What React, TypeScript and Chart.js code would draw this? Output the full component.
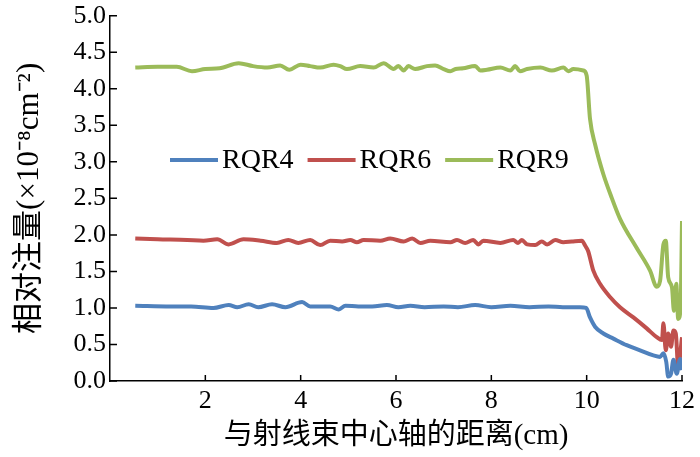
import React, { useEffect, useRef } from "react";
import { Chart, Plugin, registerables } from "chart.js";

Chart.register(...registerables);

// tick labels
const xTickValues = [2, 4, 6, 8, 10, 12];
const yTickValues = [0, 0.5, 1, 1.5, 2, 2.5, 3, 3.5, 4, 4.5, 5];

const seriesNames = ["RQR4", "RQR6", "RQR9"];
const seriesColors = ["#4F81BD", "#C0504D", "#9BBB59"];

// RQR4 (blue)
const rqr4X = [
  0.53, 1.27, 1.7, 2.17, 2.49, 2.67, 2.91, 3.11, 3.4, 3.68, 4.03, 4.2, 4.62, 4.8, 4.94,
  5.21, 5.5, 5.81, 6.05, 6.3, 6.6, 7.0, 7.3, 7.66, 8.0, 8.4, 8.8, 9.2, 9.5, 9.86, 9.99,
  10.07, 10.18, 10.35, 10.56, 10.84, 11.12, 11.4, 11.54, 11.61, 11.67, 11.71, 11.77,
  11.82, 11.89, 11.96, 12.0,
];
const rqr4Y = [
  1.03, 1.02, 1.02, 1.0, 1.04, 1.01, 1.05, 1.01, 1.05, 1.01, 1.08, 1.02, 1.02, 0.98, 1.03,
  1.02, 1.02, 1.04, 1.01, 1.03, 1.01, 1.02, 1.01, 1.04, 1.01, 1.03, 1.01, 1.02, 1.01, 1.01, 1.0,
  0.87, 0.74, 0.65, 0.58, 0.49, 0.42, 0.35, 0.33, 0.38, 0.26, 0.06, 0.1,
  0.29, 0.1, 0.3, 0.15,
];

// RQR6 (red)
const rqr6X = [
  0.53, 1.0, 1.62, 1.96, 2.25, 2.49, 2.8, 3.16, 3.5, 3.74, 3.95, 4.2, 4.41, 4.62, 4.87,
  5.04, 5.18, 5.32, 5.67, 5.88, 6.16, 6.34, 6.51, 6.72, 7.14, 7.28, 7.45, 7.62, 7.73, 7.83,
  8.19, 8.46, 8.56, 8.64, 8.75, 8.92, 9.06, 9.17, 9.34, 9.51, 9.69, 9.9, 9.97,
  10.03, 10.14, 10.28, 10.49, 10.7, 10.98, 11.26, 11.47, 11.58, 11.61, 11.66, 11.71,
  11.77, 11.82, 11.87, 11.92, 12.0,
];
const rqr6Y = [
  1.95, 1.94, 1.93, 1.92, 1.94, 1.87, 1.94, 1.92, 1.89, 1.93, 1.89, 1.93, 1.86, 1.92, 1.91,
  1.93, 1.9, 1.93, 1.92, 1.95, 1.91, 1.95, 1.89, 1.92, 1.9, 1.93, 1.89, 1.93, 1.87, 1.92,
  1.89, 1.93, 1.89, 1.93, 1.87, 1.86, 1.91, 1.87, 1.93, 1.9, 1.91, 1.92, 1.85,
  1.78, 1.51, 1.33, 1.15, 1.01, 0.87, 0.72, 0.6, 0.56, 0.79, 0.42, 0.65,
  0.47, 0.69, 0.65, 0.19, 0.6,
];

// RQR9 (green)
const rqr9X = [
  0.53, 1.0, 1.4, 1.72, 2.0, 2.3, 2.7, 3.0, 3.3, 3.57, 3.76, 4.0, 4.2, 4.41, 4.69, 4.83,
  4.97, 5.25, 5.53, 5.74, 5.95, 6.05, 6.16, 6.26, 6.4, 6.65, 6.82, 7.0, 7.14, 7.25, 7.41,
  7.66, 7.77, 7.91, 8.19, 8.4, 8.5, 8.6, 8.75, 9.03, 9.27, 9.51, 9.62, 9.72, 9.93,
  10.0, 10.07, 10.18, 10.35, 10.53, 10.7, 11.05, 11.33, 11.47, 11.54, 11.61, 11.66,
  11.71, 11.79, 11.83, 11.88, 11.92, 11.97, 12.0,
];
const rqr9Y = [
  4.29, 4.3, 4.3, 4.24, 4.27, 4.28, 4.35, 4.31, 4.29, 4.32, 4.26, 4.33, 4.31, 4.29, 4.33, 4.31,
  4.27, 4.31, 4.29, 4.35, 4.27, 4.31, 4.25, 4.31, 4.27, 4.31, 4.32, 4.27, 4.24, 4.27, 4.28,
  4.31, 4.25, 4.26, 4.29, 4.25, 4.31, 4.24, 4.27, 4.29, 4.25, 4.29, 4.24, 4.27, 4.25,
  4.18, 3.59, 3.23, 2.83, 2.5, 2.22, 1.82, 1.51, 1.29, 1.37, 1.87, 1.92,
  1.42, 1.28, 0.96, 1.33, 0.85, 1.0, 2.19,
];

const seriesX = [rqr4X, rqr6X, rqr9X];
const seriesY = [rqr4Y, rqr6Y, rqr9Y];

const serif = "'Liberation Serif', 'Times New Roman', 'Noto Sans CJK SC', serif";

// tick marks pointing into the plot, as in the original figure
const innerTicks: Plugin = {
  id: "innerTicks",
  afterDatasetsDraw(chart) {
    const { ctx, chartArea, scales } = chart;
    ctx.save();
    ctx.strokeStyle = "#000";
    ctx.lineWidth = 1.5;
    ctx.beginPath();
    scales.x.ticks.forEach((t) => {
      const px = scales.x.getPixelForValue(t.value);
      ctx.moveTo(px, chartArea.bottom);
      ctx.lineTo(px, chartArea.bottom - 6);
    });
    scales.y.ticks.forEach((t) => {
      const py = scales.y.getPixelForValue(t.value);
      ctx.moveTo(chartArea.left, py);
      ctx.lineTo(chartArea.left + 7, py);
    });
    ctx.stroke();
    ctx.restore();
  },
};

// one-row legend drawn inside the plot area
const inlineLegend: Plugin = {
  id: "inlineLegend",
  afterDraw(chart) {
    const { ctx } = chart;
    const y = 160;
    let x = 170;
    ctx.save();
    ctx.font = `28px ${serif}`;
    ctx.textBaseline = "middle";
    ctx.fillStyle = "#000";
    chart.data.datasets.forEach((ds) => {
      ctx.strokeStyle = ds.borderColor as string;
      ctx.lineWidth = 4;
      ctx.beginPath();
      ctx.moveTo(x, y);
      ctx.lineTo(x + 48, y);
      ctx.stroke();
      ctx.fillText(ds.label as string, x + 52, y + 1);
      x += 52 + ctx.measureText(ds.label as string).width + 14;
    });
    ctx.restore();
  },
};

const FluenceChart = () => {
  const canvasRef = useRef<HTMLCanvasElement | null>(null);

  useEffect(() => {
    const ctx = canvasRef.current?.getContext("2d");
    if (!ctx) return;

    const chart = new Chart(ctx, {
      type: "line",
      data: {
        datasets: seriesNames.map((name, i) => ({
          label: name,
          data: seriesX[i].map((x, j) => ({ x, y: seriesY[i][j] })),
          borderColor: seriesColors[i],
          borderWidth: 4,
          pointRadius: 0,
          fill: false,
          cubicInterpolationMode: "monotone" as const,
        })),
      },
      options: {
        animation: false,
        responsive: true,
        maintainAspectRatio: false,
        layout: { padding: { top: 13, right: 18, left: 0, bottom: 0 } },
        plugins: {
          legend: { display: false },
          tooltip: { enabled: false },
        },
        scales: {
          x: {
            type: "linear",
            min: 0,
            max: 12,
            afterBuildTicks: (scale) => {
              scale.ticks = xTickValues.map((v) => ({ value: v }));
            },
            afterFit: (scale) => {
              scale.height = 76;
            },
            grid: { display: false, drawTicks: false },
            border: { display: true, color: "#000", width: 1.5 },
            ticks: {
              padding: 5,
              color: "#000",
              font: { family: serif, size: 26 },
              callback: (v) => String(v),
            },
            title: {
              display: true,
              text: "与射线束中心轴的距离(cm)",
              color: "#000",
              font: { family: serif, size: 29 },
              padding: { top: 0, bottom: 3 },
            },
          },
          y: {
            type: "linear",
            min: 0,
            max: 5,
            afterBuildTicks: (scale) => {
              scale.ticks = yTickValues.map((v) => ({ value: v }));
            },
            afterFit: (scale) => {
              scale.width = 110;
            },
            grid: { display: false, drawTicks: false },
            border: { display: true, color: "#000", width: 1.5 },
            ticks: {
              padding: 4,
              color: "#000",
              font: { family: serif, size: 26, lineHeight: 0.9 },
              callback: (v) => Number(v).toFixed(1),
            },
            title: {
              display: true,
              text: "相对注量(×10⁻⁸cm⁻²)",
              color: "#000",
              font: { family: serif, size: 31 },
              padding: { top: 11, bottom: 0 },
            },
          },
        },
      },
      plugins: [innerTicks, inlineLegend],
    });

    return () => {
      chart.destroy();
    };
  }, []);

  return <canvas ref={canvasRef}></canvas>;
};

export default function App() {
  return (
    <div style={{ position: "fixed", left: 0, top: 0, width: 700, height: 457, background: "#fff" }}>
      <FluenceChart />
    </div>
  );
}
